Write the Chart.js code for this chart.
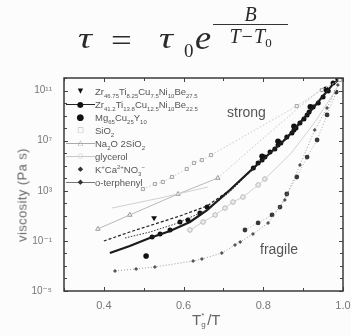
<!DOCTYPE html>
<html>
<head>
<meta charset="utf-8">
<script src="https://cdn.jsdelivr.net/npm/chart.js@4.4.1/dist/chart.umd.min.js"></script>
<style>
  html, body { margin: 0; padding: 0; background: #fcfcfc; }
  #wrap { position: relative; width: 351px; height: 336px; overflow: hidden; font-family: "Liberation Sans", Arial, sans-serif; }
  #chart { position: absolute; left: 0; top: 0; }
  .tex { position: absolute; font-family: "Liberation Serif", "DejaVu Serif", serif; color: #2a2a2a; white-space: nowrap; line-height: 1; transform-origin: left top; }
  .tex.it { font-style: italic; }
  #frac { text-align: center; font-size: 20px; font-style: italic; }
  #frac .num { border-bottom: 1.6px solid #333; padding-bottom: 0; }
  #frac .den { padding-top: 1px; }
  #frac .d0 { font-style: normal; font-size: 13px; position: relative; top: 4px; }
  #legend { position: absolute; left: 66px; top: 85px; font-size: 9.5px; color: #555; }
  .row { position: relative; height: 13px; width: 170px; }
  .mk { position: absolute; left: 0; top: 0; width: 29px; height: 13px; }
  .mk .ln { position: absolute; left: 0; right: 0; top: 6px; border-top: 1px solid #333; }
  .mk .sym { position: absolute; left: 0; right: 0; top: 0; text-align: center; line-height: 13px; font-family: "DejaVu Sans", sans-serif; }
  .txt { position: absolute; left: 29px; top: 0; line-height: 13px; white-space: nowrap; }
  .txt sub, .txt sup { font-size: 6px; line-height: 0; }
  .note { position: absolute; font-size: 14px; color: #555; }
  #ytitle { position: absolute; left: 22px; top: 195px; transform: translate(-50%, -50%) rotate(-90deg); font-size: 13px; color: #666; white-space: nowrap; letter-spacing: 0.4px; }
  #xtitle { position: absolute; left: 192px; top: 311px; font-size: 15px; color: #666; white-space: nowrap; }
  #xtitle .st { position: relative; display: inline-block; width: 6px; height: 10px; }
  #xtitle .st span { position: absolute; left: 0; font-size: 8px; }
</style>
</head>
<body>
<div id="wrap">
  <canvas id="chart" width="351" height="336"></canvas>

  <div class="tex it" style="left:78px; top:23px; font-size:30px; transform:scaleX(1.3);">τ</div>
  <div class="tex" style="left:111px; top:24px; font-size:32px; transform:scaleX(1.15);">=</div>
  <div class="tex it" style="left:159px; top:23px; font-size:30px; transform:scaleX(1.3);">τ</div>
  <div class="tex" style="left:184px; top:41px; font-size:19px;">0</div>
  <div class="tex it" style="left:195px; top:22px; font-size:33px; transform:scaleX(1.1);">e</div>
  <div class="tex" id="frac" style="left:213px; top:4px; width:75px;">
    <div class="num">B</div>
    <div class="den">T−T<span class="d0">0</span></div>
  </div>

  <div id="legend">
    <div class="row"><div class="mk"><div class="sym" style="color:#111;font-size:7px;">▼</div></div><div class="txt">Zr<sub>46.75</sub>Ti<sub>8.25</sub>Cu<sub>7.5</sub>Ni<sub>10</sub>Be<sub>27.5</sub></div></div>
    <div class="row"><div class="mk"><div class="ln" style="border-color:#222;"></div><div class="sym" style="color:#111;font-size:8px;">●</div></div><div class="txt">Zr<sub>41.2</sub>Ti<sub>13.8</sub>Cu<sub>12.5</sub>Ni<sub>10</sub>Be<sub>22.5</sub></div></div>
    <div class="row"><div class="mk"><div class="sym" style="color:#111;font-size:9px;">●</div></div><div class="txt">Mg<sub>65</sub>Cu<sub>25</sub>Y<sub>10</sub></div></div>
    <div class="row"><div class="mk"><div class="sym" style="color:#aaa;font-size:7px;">□</div></div><div class="txt">SiO<sub>2</sub></div></div>
    <div class="row"><div class="mk"><div class="ln" style="border-color:#aaa;"></div><div class="sym" style="color:#999;font-size:7px;">△</div></div><div class="txt">Na<sub>2</sub>O 2SiO<sub>2</sub></div></div>
    <div class="row"><div class="mk"><div class="ln" style="border-color:#c8c8c8;"></div><div class="sym" style="color:#bbb;font-size:7px;">○</div></div><div class="txt">glycerol</div></div>
    <div class="row"><div class="mk"><div class="sym" style="color:#333;font-size:7px;">◆</div></div><div class="txt">K<sup>+</sup>Ca<sup>2+</sup>NO<sub>3</sub><sup>−</sup></div></div>
    <div class="row"><div class="mk"><div class="ln" style="border-color:#777;"></div><div class="sym" style="color:#333;font-size:7px;">◆</div></div><div class="txt">o-terphenyl</div></div>
  </div>

  <div class="note" style="left:227px; top:104px;">strong</div>
  <div class="note" style="left:260px; top:241px;">fragile</div>
  <div id="ytitle">viscosity (Pa s)</div>
  <div id="xtitle">T<span class="st"><span style="top:-4px;">*</span><span style="top:5px;">g</span></span>/T</div>
</div>

<script>
// axis ticks
const xTickVals = [0.3, 0.4, 0.5, 0.6, 0.7, 0.8, 0.9, 1.0];
const xTickLabels = ['0.4', '0.6', '0.8', '1.0'];
const yDecades = [-5, -4, -3, -2, -1, 0, 1, 2, 3, 4, 5, 6, 7, 8, 9, 10, 11, 12];
const yLabelExps = [11, 7, 3, -1, -5];
const yLabelTexts = ['10¹¹', '10⁷', '10³', '10⁻¹', '10⁻⁵'];

// series: x = Tg*/T, values = log10(viscosity / Pa s)
const sio2X   = [0.498, 0.528, 0.548, 0.571, 0.608, 0.626, 0.646, 0.669, 0.884, 0.947, 0.992];
const sio2Log = [3.14, 3.54, 3.70, 4.10, 4.74, 5.22, 5.45, 5.85, 9.76, 11.04, 11.84];

const na2oX   = [0.385, 0.465, 0.586, 0.686];
const na2oLog = [-0.05, 1.07, 2.74, 4.02];
const na2oLineX   = [0.686, 0.799, 0.884, 0.948];
const na2oLineLog = [4.02, 7.17, 9.49, 11.2];
const naFitX   = [0.42, 0.541, 0.661];
const naFitLog = [1.62, 2.42, 3.30];

const glyX   = [0.616, 0.649, 0.679, 0.704, 0.724, 0.749, 0.787, 0.804];
const glyLog = [-0.13, 0.51, 1.07, 1.62, 2.10, 2.50, 3.46, 3.94];
const glyLineX   = [0.804, 0.87, 0.93, 0.985];
const glyLineLog = [3.94, 6.0, 8.5, 11.2];

const kcnX   = [0.754, 0.787, 0.822, 0.842, 0.859, 0.884, 0.91, 0.935, 0.96, 0.983];
const kcnLog = [-0.13, 0.43, 1.07, 1.70, 2.74, 4.10, 5.69, 7.05, 9.05, 10.88];

const otpX   = [0.428, 0.481, 0.528, 0.624, 0.646, 0.696, 0.729, 0.742, 0.774, 0.812, 0.854, 0.892, 0.929, 0.96, 0.987];
const otpLog = [-3.40, -3.24, -3.08, -2.61, -2.45, -1.97, -1.33, -1.09, -0.45, 0.43, 2.26, 5.06, 7.85, 9.60, 11.44];

const zr41X   = [0.521, 0.541, 0.566, 0.591, 0.611, 0.641, 0.659, 0.775, 0.787, 0.797, 0.804, 0.817, 0.829, 0.837, 0.844, 0.859, 0.872, 0.877, 0.882, 0.892, 0.902, 0.91, 0.915, 0.925, 0.938, 0.95, 0.963, 0.975, 0.987];
const zr41Log = [-0.69, -0.45, -0.13, 0.51, 0.67, 1.23, 1.70, 4.82, 5.22, 5.45, 5.69, 6.09, 6.33, 6.65, 6.81, 7.29, 7.61, 7.85, 8.01, 8.41, 8.73, 9.05, 9.29, 9.68, 10.0, 10.48, 10.96, 11.60, 11.92];
const zrSolidX   = [0.415, 0.465, 0.515, 0.566, 0.616, 0.659, 0.716, 0.775, 0.859, 0.925, 0.975, 0.995];
const zrSolidLog = [-1.97, -1.41, -0.77, -0.21, 0.51, 1.46, 3.06, 4.82, 7.21, 9.6, 11.52, 12.0];

const zr46X   = [0.526];
const zr46Log = [0.83];
const zr46LineX   = [0.40, 0.465, 0.528, 0.591, 0.659, 0.716, 0.775, 0.859, 0.925, 0.987];
const zr46LineLog = [-1.01, -0.29, 0.35, 0.99, 1.78, 3.06, 4.74, 7.29, 9.68, 11.92];
const zrDotX   = [0.453, 0.516, 0.579, 0.659, 0.716, 0.775];
const zrDotLog = [-0.77, -0.29, 0.35, 1.46, 2.90, 4.75];

const mgX   = [0.506, 0.797, 0.837, 0.877, 0.918, 0.957];
const mgLog = [-2.21, 5.75, 6.95, 8.15, 9.7, 11.1];

const pts = (xs, logs) => xs.map((x, i) => ({ x, y: Math.pow(10, logs[i]) }));

const line = (xs, logs, color, width, dash) => ({
  data: pts(xs, logs), showLine: true, borderColor: color, borderWidth: width,
  borderDash: dash || [], pointRadius: 0, tension: 0
});

// frame with inward tick marks on all four sides
const frame = {
  id: 'frame',
  afterDraw(chart) {
    const { ctx, chartArea: a, scales: { x, y } } = chart;
    ctx.save();
    ctx.strokeStyle = '#444';
    ctx.lineWidth = 1;
    const seg = (x1, y1, x2, y2) => { ctx.beginPath(); ctx.moveTo(x1, y1); ctx.lineTo(x2, y2); ctx.stroke(); };
    x.ticks.forEach(t => {
      const px = Math.round(x.getPixelForValue(t.value)) + 0.5;
      const len = t.label ? 4 : 3;
      seg(px, a.bottom, px, a.bottom - len);
      seg(px, a.top, px, a.top + len);
    });
    y.ticks.forEach(t => {
      const py = Math.round(y.getPixelForValue(t.value)) + 0.5;
      const len = t.label ? 4 : 3;
      seg(a.left, py, a.left + len, py);
      seg(a.right, py, a.right - len, py);
    });
    ctx.lineWidth = 1.5;
    ctx.strokeStyle = '#3a3a3a';
    ctx.strokeRect(a.left, a.top, a.right - a.left, a.bottom - a.top);
    ctx.restore();
  }
};

new Chart(document.getElementById('chart'), {
  type: 'scatter',
  data: {
    datasets: [
      line(naFitX, naFitLog, '#d0d0d0', 1),
      line(na2oLineX, na2oLineLog, '#c4c4c4', 1, [1.5, 2]),
      { ...line(na2oX, na2oLog, '#b8b8b8', 1), pointStyle: 'triangle', pointRadius: 2.6, pointBorderColor: '#9a9a9a', pointBackgroundColor: '#fafafa', pointBorderWidth: 1 },
      { ...line(sio2X, sio2Log, '#c8c8c8', 1, [1.5, 2]), pointStyle: 'rect', pointRadius: 2.2, pointBorderColor: '#a5a5a5', pointBackgroundColor: '#f4f4f4', pointBorderWidth: 1 },
      line(glyLineX, glyLineLog, '#d2d2d2', 1),
      { ...line(glyX, glyLog, '#d0d0d0', 1), pointStyle: 'circle', pointRadius: 2.3, pointBorderColor: '#b8b8b8', pointBackgroundColor: '#ececec', pointBorderWidth: 1 },
      { ...line(otpX, otpLog, '#9a9a9a', 1, [1, 2]), pointStyle: 'rectRot', pointRadius: 2, pointBorderColor: '#444', pointBackgroundColor: '#555', pointBorderWidth: 0 },
      { ...line(kcnX, kcnLog, '#aaaaaa', 1, [1, 2]), pointStyle: 'circle', pointRadius: 2.4, pointBorderColor: '#333', pointBackgroundColor: '#383838', pointBorderWidth: 0 },
      line(zrDotX, zrDotLog, '#333', 1, [1.5, 1.5]),
      line(zr46LineX, zr46LineLog, '#222', 1.2, [3, 2]),
      line(zrSolidX, zrSolidLog, '#1a1a1a', 2.2),
      { data: pts(zr41X, zr41Log), pointStyle: 'circle', pointRadius: 2.5, pointBackgroundColor: '#111', pointBorderColor: '#111', pointBorderWidth: 0 },
      { data: pts(mgX, mgLog), pointStyle: 'circle', pointRadius: 2.8, pointBackgroundColor: '#111', pointBorderColor: '#111', pointBorderWidth: 0 },
      { data: pts(zr46X, zr46Log), pointStyle: 'triangle', rotation: 180, pointRadius: 3.4, pointBackgroundColor: '#111', pointBorderColor: '#111', pointBorderWidth: 0 }
    ]
  },
  options: {
    responsive: false,
    animation: false,
    devicePixelRatio: 1,
    layout: { padding: { top: 78, right: 8, left: 0, bottom: 0 } },
    plugins: { legend: { display: false }, tooltip: { enabled: false } },
    scales: {
      x: {
        type: 'linear', min: 0.3, max: 1.0,
        afterBuildTicks: s => { s.ticks = xTickVals.map(v => ({ value: v })); },
        afterFit: s => { s.height = 45; s.paddingLeft = 0; s.paddingRight = 0; },
        grid: { display: false, drawTicks: false },
        border: { display: false },
        ticks: {
          autoSkip: false, maxRotation: 0, padding: 8, color: '#777',
          font: { family: '"Liberation Sans", Arial, sans-serif', size: 11 },
          callback: v => { const s = Number(v).toFixed(1); return xTickLabels.includes(s) ? s : ''; }
        }
      },
      y: {
        type: 'logarithmic', min: 1e-5, max: 1e12,
        afterBuildTicks: s => { s.ticks = yDecades.map(e => ({ value: Math.pow(10, e) })); },
        afterFit: s => { s.width = 64; s.paddingTop = 0; s.paddingBottom = 0; },
        grid: { display: false, drawTicks: false },
        border: { display: false },
        ticks: {
          autoSkip: false, padding: 12, color: '#777',
          font: { family: '"Liberation Sans", "DejaVu Sans", sans-serif', size: 10 },
          callback: v => { const i = yLabelExps.indexOf(Math.round(Math.log10(v))); return i >= 0 ? yLabelTexts[i] : ''; }
        }
      }
    }
  },
  plugins: [frame]
});
</script>
</body>
</html>
